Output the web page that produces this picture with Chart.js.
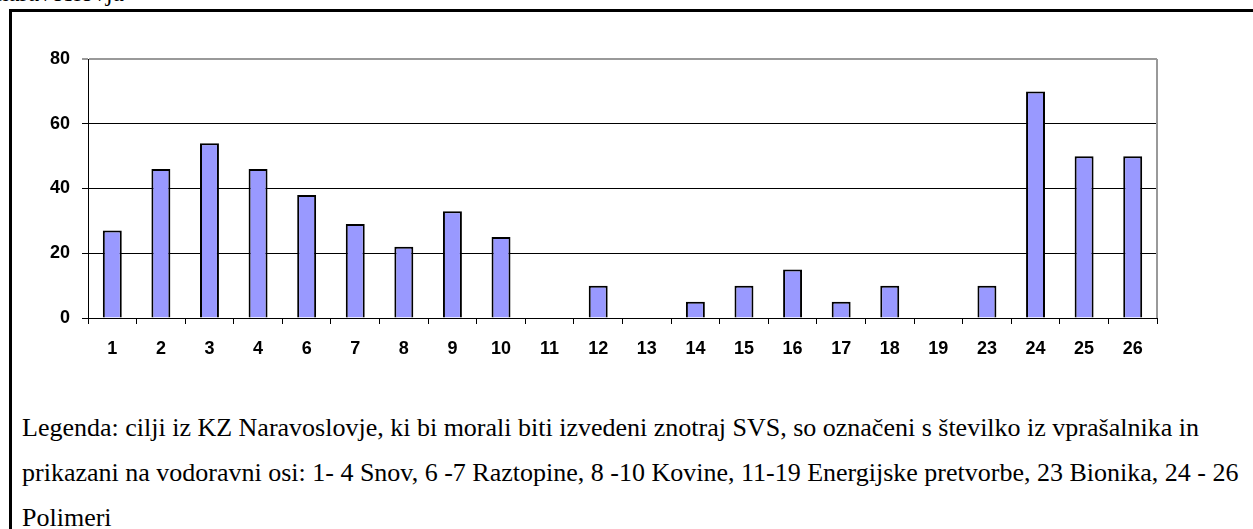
<!DOCTYPE html>
<html>
<head>
<meta charset="utf-8">
<script src="https://cdn.jsdelivr.net/npm/chart.js@4.4.0/dist/chart.umd.min.js"></script>
<style>
  body { margin: 0; background: #fff; overflow: hidden; width: 1253px; height: 529px; position: relative; }
  .frame { position: absolute; left: 9px; top: 9px; width: 1300px; height: 600px; border: 3px solid #000; box-sizing: border-box; }
  .top-text { position: absolute; left: -4px; top: -20px; font: 25px "Liberation Serif", serif; line-height: 25px; color: #000; white-space: nowrap; }
  .chart-box { position: absolute; left: 0; top: 0; width: 1253px; height: 370px; }
  .legend { position: absolute; left: 22px; top: 405px; font: 26px "Liberation Serif", serif; line-height: 45px; color: #000; white-space: nowrap; }
</style>
</head>
<body>
<div class="top-text">naravoslovja</div>
<div class="frame"></div>
<div class="chart-box"><canvas id="goals" width="1253" height="370"></canvas></div>
<div class="legend">
  Legenda: cilji iz KZ Naravoslovje, ki bi morali biti izvedeni znotraj SVS, so označeni s številko iz vprašalnika in<br>
  prikazani na vodoravni osi: 1- 4 Snov, 6 -7 Raztopine, 8 -10 Kovine, 11-19 Energijske pretvorbe, 23 Bionika, 24 - 26<br>
  Polimeri
</div>
<script>
const goalLabels = ["1", "2", "3", "4", "6", "7", "8", "9", "10", "11", "12", "13", "14", "15", "16", "17", "18", "19", "23", "24", "25", "26"];
const goalValues = [27, 46, 54, 46, 38, 29, 22, 33, 25, 0, 10, 0, 5, 10, 15, 5, 10, 0, 10, 70, 50, 50];
const yTicks = [0, 20, 40, 60, 80];

// gray frame on the right side of the plot area
const plotBorder = {
    id: "plotBorder",
    afterDraw(chart) {
        const { ctx, chartArea } = chart;
        ctx.save();
        ctx.strokeStyle = "#999";
        ctx.lineWidth = 2;
        ctx.beginPath();
        ctx.moveTo(chartArea.right, chartArea.top);
        ctx.lineTo(chartArea.right, chartArea.bottom);
        ctx.stroke();
        ctx.restore();
    },
};

const tickFont = { family: "'Liberation Sans', Arial, sans-serif", size: 18, weight: "bold" };

new Chart(document.getElementById("goals"), {
    type: "bar",
    data: {
        labels: goalLabels,
        datasets: [
            {
                data: goalValues,
                backgroundColor: "#9999ff",
                borderColor: "#000",
                borderWidth: 2,
                barPercentage: 0.39,
                categoryPercentage: 1,
            },
        ],
    },
    options: {
        responsive: false,
        animation: false,
        devicePixelRatio: 1,
        layout: { padding: { top: 59, right: 96, left: 0, bottom: 0 } },
        plugins: {
            legend: { display: false },
            tooltip: { enabled: false },
        },
        scales: {
            x: {
                grid: { drawOnChartArea: false, drawTicks: true, tickLength: 6, color: "#000" },
                border: { color: "#000", width: 1 },
                ticks: { color: "#000", font: tickFont, padding: 14, maxRotation: 0, autoSkip: false },
                afterFit(scale) { scale.height = 52; },
            },
            y: {
                min: yTicks[0],
                max: yTicks[yTicks.length - 1],
                afterBuildTicks(scale) { scale.ticks = yTicks.map((v) => ({ value: v })); },
                grid: {
                    color: (c) => (c.tick && c.tick.value === 80 ? "#999" : "#000"),
                    lineWidth: (c) => (c.tick && c.tick.value === 80 ? 2 : 1),
                    tickLength: 6,
                },
                border: { color: "#000", width: 1 },
                ticks: { color: "#000", font: tickFont, padding: 12 },
                afterFit(scale) { scale.width = 88; },
            },
        },
    },
    plugins: [plotBorder],
});
</script>
</body>
</html>
